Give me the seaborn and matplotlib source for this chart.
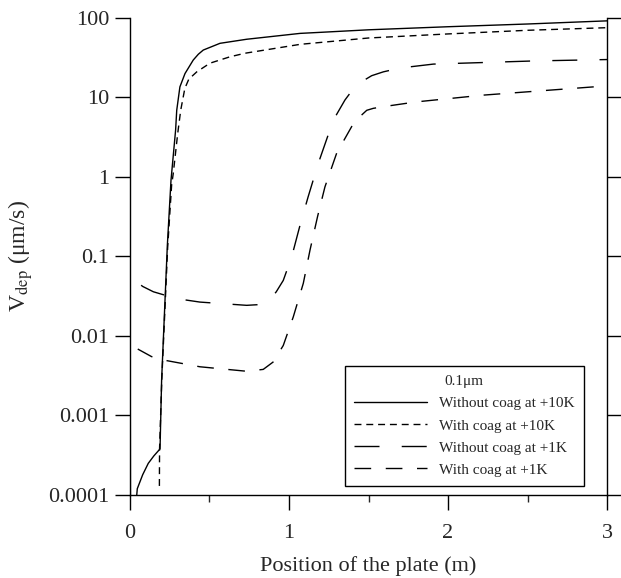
import numpy as np
import pandas as pd
import matplotlib
matplotlib.use("Agg")
import matplotlib.pyplot as plt
import seaborn as sns

# valeurs (position en m, vitesse en um/s)
x_nocoag_10k = [0.0, 0.003, 0.02, 0.046, 0.08, 0.115, 0.15, 0.189, 0.199, 0.235, 0.258, 0.287,
                0.294, 0.314, 0.346, 0.398, 0.43, 0.461, 0.566, 0.734, 1.07, 1.2, 1.5, 2.0, 2.5, 3.0]
v_nocoag_10k = [2.3, 5e-5, 3e-5, 1.2e-4, 1.8e-4, 2.5e-4, 3.1e-4, 3.8e-4, 2.8e-3, 0.138, 0.91, 3.9,
                6.9, 13.6, 20, 29.6, 35, 39.5, 48, 54, 64, 66, 71, 77.6, 84, 92]

x_coag_10k = [0.185, 0.186, 0.2, 0.237, 0.262, 0.272, 0.30, 0.319, 0.345, 0.37, 0.42, 0.503,
              0.629, 0.723, 1.07, 1.5, 2.0, 2.5, 3.0]
v_coag_10k = [1.3e-4, 3.8e-4, 2.8e-3, 0.13, 0.8, 1.1, 3.5, 6.9, 13, 17, 21, 27,
              32.5, 36, 46.6, 56, 63, 70, 75.5]

x_nocoag_1k = [0.0, 0.002, 0.025, 0.08, 0.147, 0.293, 0.44, 0.734, 0.84, 0.88, 0.92, 0.964, 1.017,
               1.07, 1.12, 1.184, 1.279, 1.352, 1.40, 1.457, 1.52, 1.593, 1.7, 1.908, 2.537, 3.0]
v_nocoag_1k = [0.15, 0.062, 0.051, 0.042, 0.036, 0.0295, 0.0267, 0.0243, 0.025, 0.0286, 0.036, 0.05, 0.099,
               0.25, 0.56, 1.48, 5.2, 9.3, 12.5, 15.8, 18.8, 21, 23.5, 26.3, 28.8, 30]

x_coag_1k = [0.0, 0.002, 0.052, 0.136, 0.231, 0.44, 0.734, 0.838, 0.90, 0.964, 1.027, 1.09,
             1.132, 1.18, 1.226, 1.30, 1.394, 1.44, 1.489, 1.53, 1.6, 1.8, 2.22, 3.0]
v_coag_1k = [0.015, 0.0078, 0.0068, 0.0055, 0.0049, 0.0041, 0.0036, 0.0038, 0.0047, 0.0076, 0.0174, 0.046,
             0.12, 0.32, 0.75, 2.0, 4.3, 5.6, 6.9, 7.3, 7.7, 8.8, 10.7, 14]

labels = ["Without coag at +10K", "With coag at +10K", "Without coag at +1K", "With coag at +1K"]
dash_styles = ["", (5, 3.5), (18, 16), (12, 10.5)]

sns.set_style("ticks")
plt.rcParams['font.family'] = ['Liberation Serif', 'DejaVu Serif']
plt.rcParams['mathtext.fontset'] = 'stix'

fig = plt.figure(figsize=(6.21, 5.78), dpi=100)
ax = fig.add_axes([0.2093, 0.1436, 0.7682, 0.8253])

series = [(x_nocoag_10k, v_nocoag_10k), (x_coag_10k, v_coag_10k),
          (x_nocoag_1k, v_nocoag_1k), (x_coag_1k, v_coag_1k)]

for (xs, vs), lab, ds in zip(series, labels, dash_styles):
    df = pd.DataFrame({"pos": xs, "v": vs})
    sns.lineplot(data=df, x="pos", y="v", ax=ax, color="black", lw=1.0,
                 sort=False, estimator=None, label=lab)
    if ds:
        ax.lines[-1].set_dashes(ds)

ax.set_yscale("log")
ax.set_xlim(0, 3)
ax.set_ylim(1e-4, 100)
ax.set_xticks([0, 1, 2, 3])
ax.set_xticklabels(["0", "1", "2", "3"])
ax.set_xticks([0.5, 1.5, 2.5], minor=True)
yt = [1e-4, 1e-3, 1e-2, 0.1, 1, 10, 100]
ax.set_yticks(yt)
ax.set_yticklabels(["0.0001", "0.001", "0.01", "0.1", "1", "10", "100"])
ax.yaxis.set_minor_locator(matplotlib.ticker.NullLocator())

ax.tick_params(axis="both", which="major", direction="out", length=11, width=1,
               labelsize=16, pad=4, color="black")
ax.tick_params(axis="x", which="major", pad=10)
ax.tick_params(axis="x", which="minor", direction="out", length=5, width=1)
ax.tick_params(axis="y", right=True, which="major")

for s in ["left", "right", "bottom"]:
    ax.spines[s].set_visible(True)
    ax.spines[s].set_color("black")
    ax.spines[s].set_linewidth(1)
ax.spines["top"].set_visible(False)

ax.set_xlabel("Position of the plate (m)", fontsize=16, labelpad=9)
ax.set_ylabel(r"V$_{\rm dep}$ (μm/s)", fontsize=17, labelpad=9)

leg = ax.legend(title="0.1μm", loc="lower right", bbox_to_anchor=(0.952, 0.019),
                borderaxespad=0, fontsize=11, title_fontsize=11, frameon=True, fancybox=False,
                handlelength=4.8, borderpad=0.6, labelspacing=0.55, handletextpad=0.8,
                framealpha=1, edgecolor="black")
leg.get_frame().set_linewidth(1)

fig.savefig("out.png", dpi=100)
